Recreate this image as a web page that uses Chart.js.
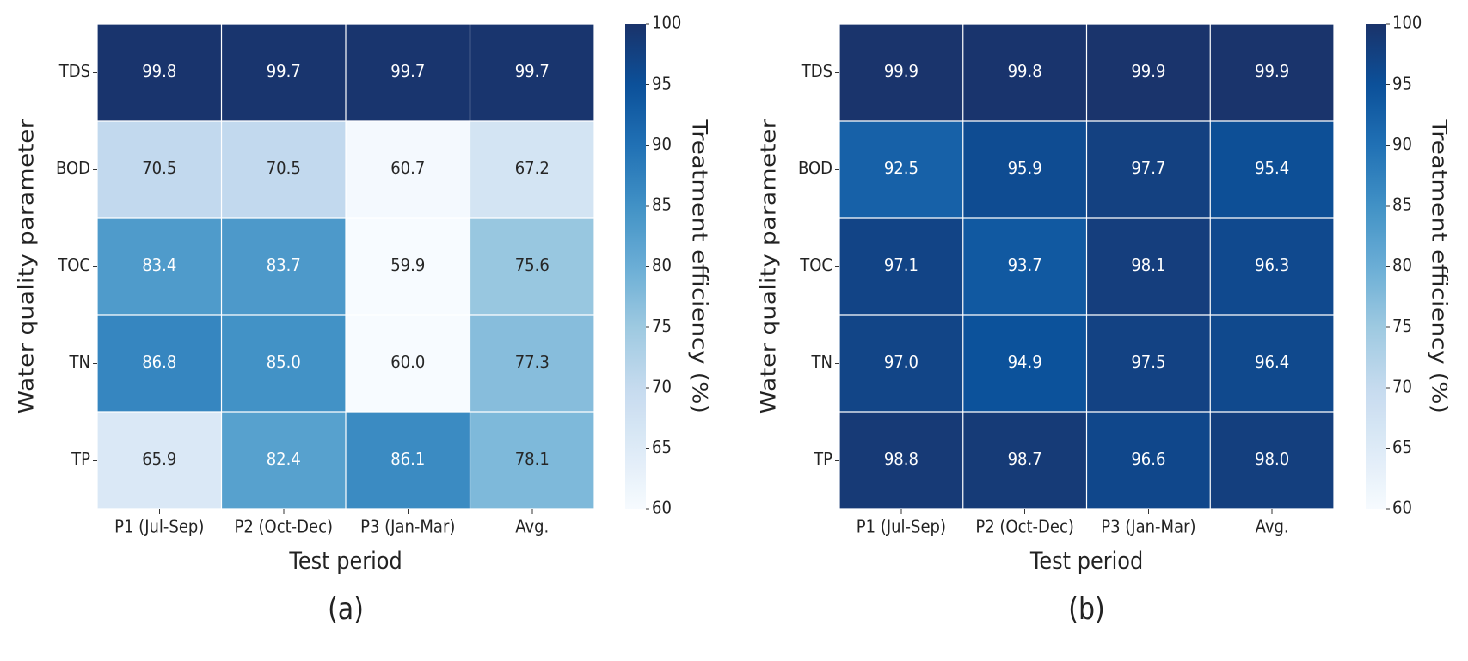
<!DOCTYPE html>
<html>
<head>
<meta charset="utf-8">
<title>Treatment efficiency heatmaps</title>
<script src="https://cdn.jsdelivr.net/npm/chart.js@4.4.1/dist/chart.umd.min.js"></script>
<style>
    html, body { margin: 0; padding: 0; background: #fff; overflow: hidden; }
    /* the source figure is squeezed horizontally, so draw wide and compress */
    #figure { position: relative; width: 1707px; height: 661px; transform: scaleX(0.86); transform-origin: 0 0; }
    #figure canvas { position: absolute; top: 0; }
</style>
</head>
<body>
<div id="figure">
    <canvas id="heatA" width="700" height="661" style="left:0px;width:700px;height:661px"></canvas>
    <canvas id="barA" width="153" height="661" style="left:700px;width:153px;height:661px"></canvas>
    <canvas id="heatB" width="700" height="661" style="left:863px;width:700px;height:661px"></canvas>
    <canvas id="barB" width="144" height="661" style="left:1563px;width:144px;height:661px"></canvas>
</div>
<script>
const periods = ["P1 (Jul-Sep)", "P2 (Oct-Dec)", "P3 (Jan-Mar)", "Avg."];
const parameters = ["TDS", "BOD", "TOC", "TN", "TP"];

// rows follow `parameters`, columns follow `periods`
const efficiencyA = [
    [99.8, 99.7, 99.7, 99.7],
    [70.5, 70.5, 60.7, 67.2],
    [83.4, 83.7, 59.9, 75.6],
    [86.8, 85.0, 60.0, 77.3],
    [65.9, 82.4, 86.1, 78.1]
];
const efficiencyB = [
    [99.9, 99.8, 99.9, 99.9],
    [92.5, 95.9, 97.7, 95.4],
    [97.1, 93.7, 98.1, 96.3],
    [97.0, 94.9, 97.5, 96.4],
    [98.8, 98.7, 96.6, 98.0]
];
const colorbarTicks = [60, 65, 70, 75, 80, 85, 90, 95, 100];
const colorMin = 60;
const colorMax = 100;

const textColor = "#222";
const fontFamily = "'DejaVu Sans', sans-serif";
Chart.defaults.font.family = fontFamily;
Chart.defaults.color = textColor;

// "Blues" style ramp
const bluesStops = ["#f7fbff", "#deebf7", "#c6dbef", "#9ecae1", "#6baed6", "#4292c6", "#2171b5", "#0c519a", "#1a336b"];

function hexToRgb(hex) {
    const n = parseInt(hex.slice(1), 16);
    return [(n >> 16) & 255, (n >> 8) & 255, n & 255];
}

function blues(t) {
    const clamped = Math.min(1, Math.max(0, t));
    const pos = clamped * (bluesStops.length - 1);
    const i = Math.min(Math.floor(pos), bluesStops.length - 2);
    const f = pos - i;
    const a = hexToRgb(bluesStops[i]);
    const b = hexToRgb(bluesStops[i + 1]);
    return a.map((c, k) => Math.round(c + (b[k] - c) * f));
}

function colorForValue(value) {
    return blues((value - colorMin) / (colorMax - colorMin));
}

function rgbString(rgb) {
    return `rgb(${rgb[0]}, ${rgb[1]}, ${rgb[2]})`;
}

function luminance(rgb) {
    const lin = rgb.map((c) => {
        const s = c / 255;
        return s <= 0.03928 ? s / 12.92 : Math.pow((s + 0.055) / 1.055, 2.4);
    });
    return 0.2126 * lin[0] + 0.7152 * lin[1] + 0.0722 * lin[2];
}

const cellLabels = {
    id: "cellLabels",
    afterDatasetsDraw(chart) {
        const ctx = chart.ctx;
        ctx.save();
        ctx.font = `18px ${fontFamily}`;
        ctx.textAlign = "center";
        ctx.textBaseline = "middle";
        chart.data.datasets.forEach((dataset, i) => {
            chart.getDatasetMeta(i).data.forEach((bar, j) => {
                const value = dataset.values[j];
                const lum = luminance(colorForValue(value));
                ctx.fillStyle = lum > 0.408 ? "#262626" : "#ffffff";
                ctx.fillText(value.toFixed(1), bar.x, (bar.y + bar.base) / 2);
            });
        });
        ctx.restore();
    }
};

function buildHeatmap(canvasId, values, panelLabel, padRight) {
    const datasets = parameters.map((name, r) => ({
        label: name,
        data: periods.map(() => [r, r + 1]),
        values: values[r],
        backgroundColor: values[r].map((v) => rgbString(colorForValue(v))),
        borderColor: "rgba(255, 255, 255, 0.6)",
        borderWidth: 0.6,
        borderSkipped: false,
        inflateAmount: 0,
        grouped: false,
        barPercentage: 1,
        categoryPercentage: 1
    }));

    return new Chart(document.getElementById(canvasId), {
        type: "bar",
        data: { labels: periods, datasets },
        options: {
            responsive: false,
            animation: false,
            devicePixelRatio: 2,
            layout: { padding: { top: 24, right: padRight, bottom: 0, left: 0 } },
            plugins: {
                legend: { display: false },
                tooltip: { enabled: false },
                title: {
                    display: true,
                    text: panelLabel,
                    position: "bottom",
                    fullSize: false,
                    color: textColor,
                    font: { size: 30, weight: "normal" },
                    padding: { top: 0, bottom: 32 }
                }
            },
            scales: {
                x: {
                    type: "category",
                    offset: true,
                    grid: { offset: false, drawOnChartArea: false, tickLength: 5, color: "#333" },
                    border: { display: false },
                    ticks: { font: { size: 18 }, padding: 3, maxRotation: 0, autoSkip: false, color: textColor },
                    title: {
                        display: true,
                        text: "Test period",
                        color: textColor,
                        font: { size: 24 },
                        padding: { top: 0, bottom: 16 }
                    },
                    afterFit: (scale) => { scale.height = 84; }
                },
                y: {
                    type: "linear",
                    min: 0,
                    max: parameters.length,
                    reverse: true,
                    afterBuildTicks: (scale) => {
                        scale.ticks = parameters.map((_, i) => ({ value: i + 0.5 }));
                    },
                    ticks: {
                        font: { size: 18 },
                        padding: 3,
                        color: textColor,
                        callback: (value, index) => parameters[index]
                    },
                    grid: { drawOnChartArea: false, tickLength: 5, color: "#333" },
                    border: { display: false },
                    title: {
                        display: true,
                        text: "Water quality parameter",
                        color: textColor,
                        font: { size: 24 },
                        padding: { top: 18, bottom: 0 }
                    },
                    afterFit: (scale) => { scale.width = 113; }
                }
            }
        },
        plugins: [cellLabels]
    });
}

function gradientFill(context) {
    const chart = context.chart;
    if (!chart.chartArea) return null;
    const yScale = chart.scales.y;
    const gradient = chart.ctx.createLinearGradient(0, yScale.getPixelForValue(colorMin), 0, yScale.getPixelForValue(colorMax));
    const steps = 40;
    for (let k = 0; k <= steps; k++) {
        gradient.addColorStop(k / steps, rgbString(blues(k / steps)));
    }
    return gradient;
}

function buildColorbar(canvasId, padLeft, axisWidth, titlePad) {
    return new Chart(document.getElementById(canvasId), {
        type: "bar",
        data: {
            labels: [""],
            datasets: [{
                data: [[colorMin, colorMax]],
                backgroundColor: gradientFill,
                borderWidth: 0,
                inflateAmount: 0,
                barPercentage: 1,
                categoryPercentage: 1
            }]
        },
        options: {
            responsive: false,
            animation: false,
            devicePixelRatio: 2,
            layout: { padding: { top: 24, right: 0, bottom: 152, left: padLeft } },
            plugins: { legend: { display: false }, tooltip: { enabled: false } },
            scales: {
                x: { display: false },
                y: {
                    position: "right",
                    min: colorMin,
                    max: colorMax,
                    afterBuildTicks: (scale) => {
                        scale.ticks = colorbarTicks.map((v) => ({ value: v }));
                    },
                    ticks: { font: { size: 18 }, padding: 3, color: textColor },
                    grid: { drawOnChartArea: false, tickLength: 4, color: "#333" },
                    border: { display: false },
                    title: {
                        display: true,
                        text: "Treatment efficiency (%)",
                        color: textColor,
                        font: { size: 24 },
                        padding: { top: titlePad, bottom: 0 }
                    },
                    afterFit: (scale) => { scale.width = axisWidth; }
                }
            }
        }
    });
}

buildHeatmap("heatA", efficiencyA, "(a)", 9);
buildColorbar("barA", 27, 102, 27);
buildHeatmap("heatB", efficiencyB, "(b)", 12);
buildColorbar("barB", 25, 95, 21);
</script>
</body>
</html>
